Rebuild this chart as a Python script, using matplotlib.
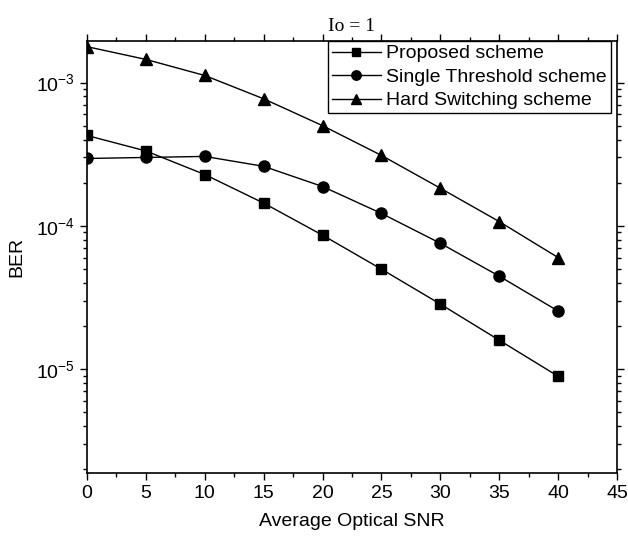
import numpy as np
import matplotlib
matplotlib.use('Agg')
import matplotlib.pyplot as plt
from matplotlib.ticker import MultipleLocator, LogLocator

snr = [0, 5, 10, 15, 20, 25, 30, 35, 40]
ber_proposed = [4.27e-4, 3.33e-4, 2.28e-4, 1.44e-4, 8.6e-5, 4.98e-5, 2.84e-5, 1.59e-5, 8.9e-6]
ber_single = [2.95e-4, 3.0e-4, 3.05e-4, 2.6e-4, 1.88e-4, 1.22e-4, 7.55e-5, 4.45e-5, 2.54e-5]
ber_hard = [1.78e-3, 1.45e-3, 1.12e-3, 7.7e-4, 5.0e-4, 3.1e-4, 1.83e-4, 1.07e-4, 6.0e-5]

plt.rcParams['font.family'] = ['Liberation Sans', 'DejaVu Sans']
plt.rcParams['mathtext.fontset'] = 'custom'
plt.rcParams['mathtext.rm'] = 'Liberation Sans'
plt.rcParams['mathtext.default'] = 'regular'

fig = plt.figure(figsize=(6.28, 5.38), dpi=100)
ax = fig.add_axes([87 / 628, 1 - 473 / 538, 530 / 628, 432 / 538])

ax.plot(snr, ber_proposed, color='black', lw=1, marker='s', ms=7, label='Proposed scheme')
ax.plot(snr, ber_single, color='black', lw=1, marker='o', ms=8, label='Single Threshold scheme')
ax.plot(snr, ber_hard, color='black', lw=1, marker='^', ms=9, label='Hard Switching scheme')

ax.set_yscale('log')
ax.set_xlim(0, 45)
ax.set_ylim(1.88e-6, 1.95e-3)
ax.xaxis.set_major_locator(MultipleLocator(5))
ax.xaxis.set_minor_locator(MultipleLocator(2.5))
ax.yaxis.set_major_locator(LogLocator(base=10, numticks=10))
ax.yaxis.set_minor_locator(LogLocator(base=10, subs=np.arange(2, 10), numticks=10))

ax.tick_params(which='both', direction='out', top=True, right=True, width=1, labelsize=14)
ax.tick_params(which='major', length=5)
ax.tick_params(which='minor', length=3)
for s in ax.spines.values():
    s.set_linewidth(1.2)

ax.set_xlabel('Average Optical SNR', fontsize=14, labelpad=8)
ax.set_ylabel('BER', fontsize=14, labelpad=8)
ax.set_title('Io = 1', fontsize=14, family='Liberation Serif', pad=7)

leg = ax.legend(loc='upper right', bbox_to_anchor=(0.9887, 1.0), fontsize=14, frameon=True,
                fancybox=False, edgecolor='black', framealpha=1, handlelength=2.5,
                borderpad=0.2, labelspacing=0.3, handletextpad=0.3, borderaxespad=0,
                markerscale=0.85)
leg.get_frame().set_linewidth(1)

fig.savefig('out.png', dpi=100)
